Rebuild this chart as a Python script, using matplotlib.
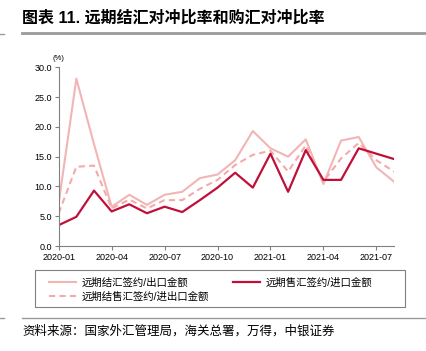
import matplotlib.pyplot as plt
from matplotlib.lines import Line2D
from matplotlib.patches import Rectangle

plt.rcParams['font.family'] = ['Liberation Sans', 'Noto Sans CJK SC', 'DejaVu Sans']

# monthly data, 2020-01 .. 2021-08
months = ['2020-01', '2020-02', '2020-03', '2020-04', '2020-05', '2020-06', '2020-07',
          '2020-08', '2020-09', '2020-10', '2020-11', '2020-12', '2021-01', '2021-02',
          '2021-03', '2021-04', '2021-05', '2021-06', '2021-07', '2021-08']
settle_export = [7.2, 28.1, 17.1, 6.6, 8.6, 6.9, 8.6, 9.1, 11.4, 12.0, 14.4, 19.3,
                 16.4, 15.0, 17.9, 10.4, 17.7, 18.3, 13.2, 10.8]
sale_import = [3.5, 4.9, 9.3, 5.8, 7.0, 5.5, 6.6, 5.7, 7.7, 9.8, 12.3, 9.8,
               15.5, 9.1, 16.1, 11.1, 11.1, 16.4, 15.5, 14.6]
total_trade = [5.5, 13.3, 13.5, 6.3, 7.8, 6.3, 7.7, 7.7, 9.6, 11.1, 13.6, 15.3,
               16.0, 12.5, 16.9, 10.8, 14.7, 17.3, 14.4, 12.5]
labels = ['远期结汇签约/出口金额', '远期结售汇签约/进出口金额', '远期售汇签约/进口金额']
tick_idx = [0, 3, 6, 9, 12, 15, 18]

W, H = 427, 351
fig = plt.figure(figsize=(W / 100, H / 100), dpi=100)
ax = fig.add_axes([58.7 / W, 1 - 246 / H, (394 - 58.7) / W, (246 - 67.3) / H])

x = list(range(len(months)))
l1, = ax.plot(x, settle_export, color='#F2B5B5', lw=1.5)
l3, = ax.plot(x, total_trade, color='#F4AAAA', lw=1.5, ls=(0, (3, 2)))
l2, = ax.plot(x, sale_import, color='#C0103A', lw=1.6)

ax.set_xlim(0, 19)
ax.set_ylim(0, 30)
ax.set_yticks(range(0, 31, 5))
ax.set_yticklabels([f'{v:.1f}' for v in range(0, 31, 5)])
ax.set_xticks(tick_idx)
ax.set_xticklabels([months[i] for i in tick_idx])
ax.tick_params(labelsize=6.5, length=3, width=0.8, color='#808080', pad=2)
for s in ['top', 'right']:
    ax.spines[s].set_visible(False)
for s in ['left', 'bottom']:
    ax.spines[s].set_color('#808080')
    ax.spines[s].set_linewidth(0.8)
ax.text(0.0, 30.9, '(%)', fontsize=5.5, ha='center', va='bottom')

# title and rules
fig.text(22 / W, 1 - 18 / H, '图表 11. 远期结汇对冲比率和购汇对冲比率', fontsize=11.5,
         fontweight='bold', va='center', ha='left')
fig.add_artist(Line2D([22 / W, 1], [1 - 33 / H] * 2, color='#9A9A9A', lw=2))
fig.add_artist(Line2D([0, 4 / W], [1 - 34 / H] * 2, color='#9A9A9A', lw=1))
fig.add_artist(Line2D([22 / W, 1], [1 - 318 / H] * 2, color='#9A9A9A', lw=1))
fig.add_artist(Line2D([0, 4 / W], [1 - 318 / H] * 2, color='#9A9A9A', lw=1))

# legend box
fig.add_artist(Rectangle((35 / W, 1 - 307 / H), 370 / W, 37 / H, fill=False,
                         edgecolor='#808080', lw=0.8, transform=fig.transFigure))
fig.legend([l1, l3, l2], labels, ncol=2, loc='upper left',
           bbox_to_anchor=(42 / W, 1 - 270 / H), frameon=False, fontsize=7.5,
           handlelength=2.6, handletextpad=0.5, columnspacing=2.3, labelspacing=0.4,
           borderpad=0.2)

fig.text(22 / W, 1 - 331 / H, '资料来源：国家外汇管理局，海关总署，万得，中银证券',
         fontsize=9, style='italic', va='center', ha='left')

fig.savefig('out.png', dpi=100)
